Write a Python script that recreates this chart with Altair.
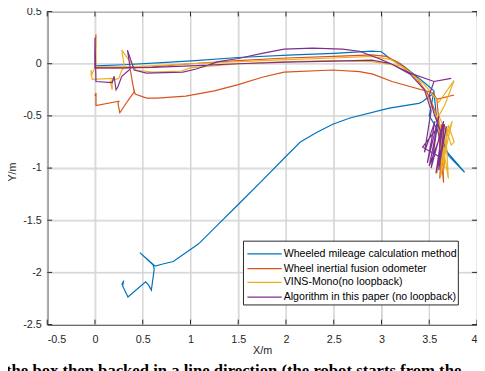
import altair as alt
import pandas as pd

series_names = [
    "Wheeled mileage calculation method",
    "Wheel inertial fusion odometer",
    "VINS-Mono(no loopback)",
    "Algorithm in this paper (no loopback)",
]
series_colors = ["#0072BD", "#D95319", "#EDB120", "#7E2F8E"]

blue_x = [0.0, 0.3, 0.7, 1.05, 1.5, 2.08, 2.5, 2.9, 3.0, 3.1, 3.24, 3.46, 3.55, 3.50, 3.58, 3.62, 3.66,
          3.60, 3.70, 3.87, 3.70, 3.64, 3.58, 3.55, 3.42, 3.39, 3.08, 2.67, 2.49, 2.32, 2.15, 1.98, 1.74,
          1.50, 1.29, 1.085, 0.82, 0.71, 0.63, 0.47, 0.61, 0.62, 0.59, 0.56, 0.53, 0.345, 0.29, 0.30, 0.28]
blue_y = [-0.02, -0.01, 0.01, 0.03, 0.06, 0.085, 0.10, 0.12, 0.115, 0.04, -0.03, -0.19, -0.26, -0.50, -0.62,
          -0.75, -0.85, -0.70, -0.86, -1.04, -0.88, -0.72, -0.55, -0.28, -0.37, -0.38, -0.425, -0.52, -0.58,
          -0.66, -0.75, -0.906, -1.13, -1.349, -1.54, -1.726, -1.896, -1.92, -1.94, -1.81, -1.93, -1.97,
          -2.17, -2.12, -2.09, -2.236, -2.13, -2.08, -2.12]

orange_x = [0.0, 0.01, 0.0, 0.0, 0.3, 0.6, 1.0, 1.5, 2.0, 2.5, 2.9, 3.05, 3.2, 3.35, 3.48, 3.56, 3.60, 3.62,
            3.60, 3.65, 3.63, 3.61, 3.64, 3.62, 3.61, 3.64, 3.66, 3.60, 3.58, 3.76, 3.58, 3.54, 3.11, 2.91,
            2.77, 2.49, 1.98, 1.75, 1.5, 1.25, 0.95, 0.65, 0.54, 0.42, 0.40, 0.37, 0.41, 0.34, 0.26, 0.24,
            0.25, 0.01, 0.01, 0.0]
orange_y = [0.0, 0.28, 0.10, -0.04, -0.04, -0.03, 0.0, 0.03, 0.055, 0.07, 0.085, 0.07, 0.0, -0.12, -0.28,
            -0.45, -0.60, -1.00, -0.62, -1.14, -0.58, -0.95, -0.70, -1.05, -1.10, -0.60, -1.00, -0.55, -0.34,
            -0.30, -0.34, -0.28, -0.17, -0.10, -0.075, -0.06, -0.08, -0.13, -0.20, -0.26, -0.31, -0.33, -0.33,
            -0.29, -0.22, -0.06, -0.27, -0.36, -0.47, -0.38, -0.36, -0.40, -0.28, -0.31]

yellow_x = [0.0, 0.01, 0.01, 0.0, 0.3, 0.6, 1.0, 1.5, 2.0, 2.5, 2.9, 3.1, 3.3, 3.45, 3.55, 3.62, 3.66, 3.60,
            3.70, 3.67, 3.73, 3.76, 3.70, 3.64, 3.74, 3.62, 3.58, 3.65, 3.62, 3.70, 3.60, 3.66, 3.76, 3.60,
            3.45, 3.2, 2.9, 2.5, 2.0, 1.5, 1.0, 0.9, 0.6, 0.43, 0.28, 0.31, 0.28, 0.25, 0.16, 0.18, 0.18,
            -0.03, -0.04, -0.04, 0.0]
yellow_y = [0.0, 0.22, -0.03, -0.03, -0.03, -0.02, 0.0, 0.02, 0.04, 0.055, 0.07, 0.04, -0.08, -0.25, -0.45,
            -0.60, -1.00, -0.55, -1.10, -0.60, -0.78, -0.75, -0.59, -0.95, -0.55, -0.85, -1.05, -0.62, -1.08,
            -0.70, -0.50, -0.40, -0.16, -0.37, -0.20, -0.02, 0.02, 0.03, 0.02, 0.0, -0.04, -0.07, -0.08,
            -0.06, 0.13, -0.04, -0.06, -0.14, -0.17, -0.25, -0.14, -0.15, -0.06, -0.12, -0.03]

purple_x = [0.0, 0.0, 0.0, 0.3, 0.6, 1.0, 1.5, 2.0, 2.5, 2.9, 3.1, 3.3, 3.45, 3.52, 3.45, 3.56, 3.48, 3.60,
            3.52, 3.65, 3.57, 3.68, 3.62, 3.43, 3.58, 3.50, 3.66, 3.60, 3.62, 3.55, 3.50, 3.55, 3.73, 3.55,
            3.30, 3.10, 2.97, 2.77, 2.59, 2.28, 1.98, 1.75, 1.50, 1.29, 1.06, 0.92, 0.54, 0.41, 0.34, 0.37,
            0.28, 0.24, 0.22, 0.20, 0.18, 0.01, 0.0, 0.0]
purple_y = [0.0, 0.25, -0.04, -0.04, -0.035, -0.02, 0.0, 0.015, 0.025, 0.035, 0.0, -0.10, -0.25, -0.45,
            -0.85, -0.55, -0.95, -0.50, -1.00, -0.55, -1.05, -0.60, -0.90, -0.80, -0.62, -0.98, -0.58, -1.02,
            -0.65, -0.48, -0.30, -0.17, -0.14, -0.17, -0.09, 0.0, 0.05, 0.12, 0.14, 0.15, 0.14, 0.10, 0.05,
            0.02, -0.05, -0.08, -0.09, -0.06, 0.13, -0.05, -0.12, -0.22, -0.25, -0.12, -0.18, -0.17, 0.24, 0.0]

x_ticks = [-0.5, 0, 0.5, 1, 1.5, 2, 2.5, 3, 3.5, 4]
y_ticks = [-2.5, -2, -1.5, -1, -0.5, 0, 0.5]

caption = "the box then backed in a line direction (the robot starts from the"

W, H = 438, 319
INK = "#262626"
GRID = "#d4d4d4"

xs = alt.Scale(domain=[-0.5, 4], nice=False, zero=False)
ys = alt.Scale(domain=[-2.5, 0.5], nice=False, zero=False)

x_axis = alt.Axis(values=x_ticks, title="X/m", labelExpr="datum.value + ''", grid=True, ticks=False,
                  labelPadding=9, titleY=27, titleBaseline="middle")
y_axis = alt.Axis(values=y_ticks, title="Y/m", labelExpr="datum.value + ''", grid=True, ticks=False,
                  labelPadding=6, titleX=-35, titleY=163, titleAngle=270, titleAlign="center",
                  titleBaseline="middle")

all_x = [blue_x, orange_x, yellow_x, purple_x]
all_y = [blue_y, orange_y, yellow_y, purple_y]

xt = pd.DataFrame({"gx": x_ticks})
yt = pd.DataFrame({"gy": y_ticks})

grid = [
    alt.Chart(xt).mark_rule(stroke=GRID, strokeWidth=1).encode(
        x=alt.X("gx:Q", scale=xs, axis=x_axis)),
    alt.Chart(yt).mark_rule(stroke=GRID, strokeWidth=1).encode(
        y=alt.Y("gy:Q", scale=ys, axis=y_axis)),
]

layers = []
for name, col, sx, sy in zip(series_names, series_colors, all_x, all_y):
    df = pd.DataFrame({"x": sx, "y": sy, "i": list(range(len(sx))), "series": name})
    layers.append(
        alt.Chart(df).mark_line(color=col, strokeWidth=1.2).encode(
            x=alt.X("x:Q", scale=xs, axis=x_axis),
            y=alt.Y("y:Q", scale=ys, axis=y_axis),
            order="i:Q",
        )
    )

xt2 = pd.DataFrame({"x": x_ticks})
yt2 = pd.DataFrame({"y": y_ticks})
ticks = [
    alt.Chart(xt2).mark_rule(color=INK, strokeWidth=1).encode(
        x=alt.X("x:Q", scale=xs, axis=x_axis), y=alt.value(H), y2=alt.value(H - 5)),
    alt.Chart(xt2).mark_rule(color=INK, strokeWidth=1).encode(
        x=alt.X("x:Q", scale=xs, axis=x_axis), y=alt.value(0), y2=alt.value(5)),
    alt.Chart(yt2).mark_rule(color=INK, strokeWidth=1).encode(
        y=alt.Y("y:Q", scale=ys, axis=y_axis), x=alt.value(0), x2=alt.value(5)),
    alt.Chart(yt2).mark_rule(color=INK, strokeWidth=1).encode(
        y=alt.Y("y:Q", scale=ys, axis=y_axis), x=alt.value(W), x2=alt.value(W - 5)),
]

one = pd.DataFrame({"a": [0]})
legend = [
    alt.Chart(one).mark_rect(fill="white", stroke=INK, strokeWidth=1).encode(
        x=alt.value(200), x2=alt.value(419), y=alt.value(234), y2=alt.value(299))
]
row_y = [247, 262, 276, 291]
for name, col, ry in zip(series_names, series_colors, row_y):
    legend.append(alt.Chart(one).mark_rule(color=col, strokeWidth=1.2).encode(
        x=alt.value(204), x2=alt.value(239), y=alt.value(ry)))
    legend.append(alt.Chart(one).mark_text(text=name, align="left", baseline="middle",
                                           font="Liberation Sans", fontSize=10.8, color="#000000").encode(
        x=alt.value(241), y=alt.value(ry)))

cap = alt.Chart(one).mark_text(text=caption, align="left", baseline="alphabetic",
                               font="Liberation Serif", fontSize=17, fontWeight="bold",
                               color="#000000").encode(x=alt.value(-42), y=alt.value(371))

chart = alt.layer(*grid, *layers, *ticks, *legend, cap).properties(
    width=W, height=H,
    autosize=alt.AutoSizeParams(type="none"),
    padding={"left": 40, "top": 0, "right": 0, "bottom": 60},
).configure_axis(
    labelFont="Liberation Sans", labelFontSize=11, labelColor=INK,
    titleFont="Liberation Sans", titleFontSize=11, titleFontWeight="normal", titleColor=INK,
    domainColor=INK, domainWidth=1, gridColor=GRID, gridWidth=1,
).configure_view(stroke=INK, strokeWidth=1)

chart.save("out.html", embed_options={"renderer": "svg", "actions": False})
